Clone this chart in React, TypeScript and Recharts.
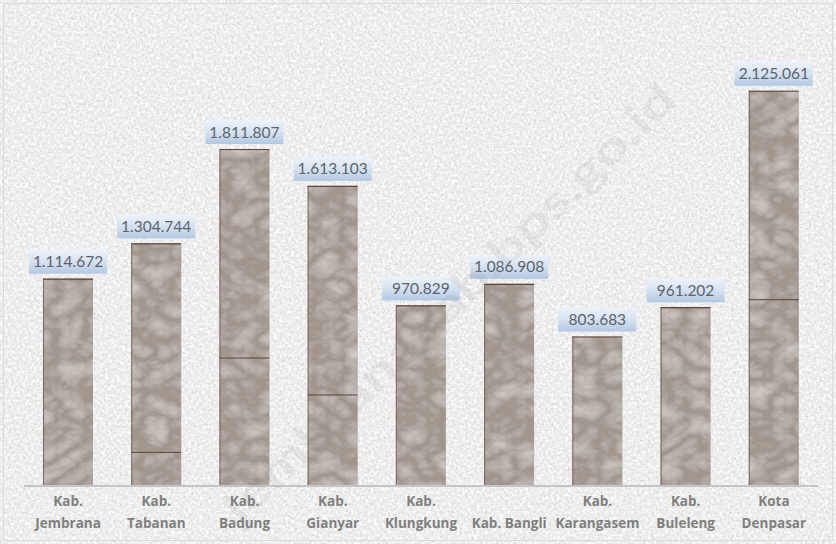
import React from 'react';
import { BarChart, Bar, XAxis, YAxis, LabelList } from 'recharts';

const regions = [
  'Kab. Jembrana',
  'Kab. Tabanan',
  'Kab. Badung',
  'Kab. Gianyar',
  'Kab. Klungkung',
  'Kab. Bangli',
  'Kab. Karangasem',
  'Kab. Buleleng',
  'Kota Denpasar',
];
const tickLines: string[][] = [
  ['Kab.', 'Jembrana'],
  ['Kab.', 'Tabanan'],
  ['Kab.', 'Badung'],
  ['Kab.', 'Gianyar'],
  ['Kab.', 'Klungkung'],
  ['', 'Kab. Bangli'],
  ['Kab.', 'Karangasem'],
  ['Kab.', 'Buleleng'],
  ['Kota', 'Denpasar'],
];
const population = [1114672, 1304744, 1811807, 1613103, 970829, 1086908, 803683, 961202, 2125061];
const valueLabels = ['1.114.672', '1.304.744', '1.811.807', '1.613.103', '970.829', '1.086.908', '803.683', '961.202', '2.125.061'];
const yDomain = [0, 2500000];
const watermark = 'jembranakab.bps.go.id';

const data = regions.map((r, i) => ({ name: r, value: population[i], label: valueLabels[i], idx: i }));

const FONT = 'Lato, "Open Sans", sans-serif';
const TICK_FONT = '"Open Sans", Lato, sans-serif';

const Tick = (props: any) => {
  const { x, y, payload } = props;
  const lines = tickLines[payload.index] || ['', String(payload.value)];
  return (
    <g>
      <text x={x} y={y + 12} textAnchor="middle" fill="#7f7f7f" fontWeight={700} fontSize={13.5} fontFamily={TICK_FONT}>
        {lines[0]}
      </text>
      <text x={x} y={y + 34} textAnchor="middle" fill="#7f7f7f" fontWeight={700} fontSize={13.5} fontFamily={TICK_FONT}>
        {lines[1]}
      </text>
    </g>
  );
};

const BarShape = (props: any) => {
  const { x, y, width, height } = props;
  const seam = y + 209;
  return (
    <g>
      <rect x={x} y={y} width={width} height={height} fill="#a0968e" filter="url(#barNoise)" />
      <line x1={x} y1={y + 0.5} x2={x + width} y2={y + 0.5} stroke="#5e4238" strokeWidth={1.2} />
      <line x1={x + 0.5} y1={y} x2={x + 0.5} y2={y + height} stroke="#6e564c" strokeWidth={0.8} />
      {seam < y + height - 2 && (
        <line x1={x} y1={seam} x2={x + width} y2={seam} stroke="#5e4238" strokeWidth={1} />
      )}
    </g>
  );
};

const ValueBox = (props: any) => {
  const { x, y, width, index } = props;
  const cx = x + width / 2;
  const w = 78;
  const h = 24;
  const top = y - 5 - h;
  return (
    <g>
      <rect x={cx - w / 2} y={top} width={w} height={h} fill="url(#lblGrad)" />
      <text x={cx} y={top + h / 2 + 5.5} textAnchor="middle" fill="#5c636d" fontSize={15.5} fontFamily={FONT}>
        {valueLabels[index]}
      </text>
    </g>
  );
};

export default function App() {
  return (
    <div style={{ position: 'absolute', left: 0, top: 0, width: 836, height: 544 }}>
      <svg width={836} height={544} style={{ position: 'absolute', left: 0, top: 0 }}>
        <defs>
          <filter id="bgNoise" x="0" y="0" width="1" height="1">
            <feTurbulence type="fractalNoise" baseFrequency="0.35" numOctaves="3" seed="7" result="n" />
            <feColorMatrix in="n" type="matrix" values="0 0 0 0 1  0 0 0 0 1  0 0 0 0 1  2.6 0 0 0 -1.05" result="w" />
            <feTurbulence type="fractalNoise" baseFrequency="0.5" numOctaves="2" seed="19" result="n2" />
            <feColorMatrix in="n2" type="matrix" values="0 0 0 0 0.55  0 0 0 0 0.55  0 0 0 0 0.55  2.2 0 0 0 -1.15" result="g" />
            <feComposite in="w" in2="SourceAlpha" operator="in" result="wc" />
            <feComposite in="g" in2="SourceAlpha" operator="in" result="gc" />
            <feMerge>
              <feMergeNode in="SourceGraphic" />
              <feMergeNode in="gc" />
              <feMergeNode in="wc" />
            </feMerge>
          </filter>
        </defs>
        <rect x={0} y={0} width={836} height={544} fill="#e9e9e9" filter="url(#bgNoise)" />
        <rect x={3.5} y={3.5} width={829} height={537} fill="none" stroke="#dcdcdc" strokeWidth={1} />
      </svg>
      <div style={{ position: 'absolute', left: 0, top: 0 }}>
        <BarChart width={836} height={544} data={data} margin={{ top: 21, right: 18, bottom: 0, left: 24 }} barSize={50}>
          <defs>
            <linearGradient id="lblGrad" x1="0" y1="0" x2="0" y2="1">
              <stop offset="0%" stopColor="#eef3fa" />
              <stop offset="50%" stopColor="#d6e2f1" />
              <stop offset="100%" stopColor="#b3c8e3" />
            </linearGradient>
            <filter id="barNoise" x="0" y="0" width="1" height="1">
              <feTurbulence type="turbulence" baseFrequency="0.035 0.05" numOctaves="3" seed="5" result="n" />
              <feColorMatrix in="n" type="matrix" values="0 0 0 0 0.8  0 0 0 0 0.77  0 0 0 0 0.75  0 0 0 0.9 -0.12" result="w" />
              <feComposite in="w" in2="SourceAlpha" operator="in" result="wc" />
              <feMerge>
                <feMergeNode in="SourceGraphic" />
                <feMergeNode in="wc" />
              </feMerge>
            </filter>
          </defs>
          <YAxis hide domain={yDomain} />
          <XAxis
            dataKey="name"
            interval={0}
            height={58}
            tickLine={false}
            axisLine={{ stroke: '#c4c4cc', strokeWidth: 2 }}
            tick={<Tick />}
          />
          <Bar dataKey="value" shape={<BarShape />} isAnimationActive={false}>
            <LabelList dataKey="label" content={<ValueBox />} />
          </Bar>
        </BarChart>
      </div>
      <svg width={836} height={544} style={{ position: 'absolute', left: 0, top: 0, pointerEvents: 'none' }}>
        <text
          x={460}
          y={314}
          textAnchor="middle"
          fontSize={44}
          fontWeight={700}
          fontFamily={FONT}
          fill="#8c8c8c"
          fillOpacity={0.12}
          transform="rotate(-44 460 314)"
          textLength={610}
          lengthAdjust="spacingAndGlyphs"
        >
          {watermark}
        </text>
      </svg>
    </div>
  );
}
